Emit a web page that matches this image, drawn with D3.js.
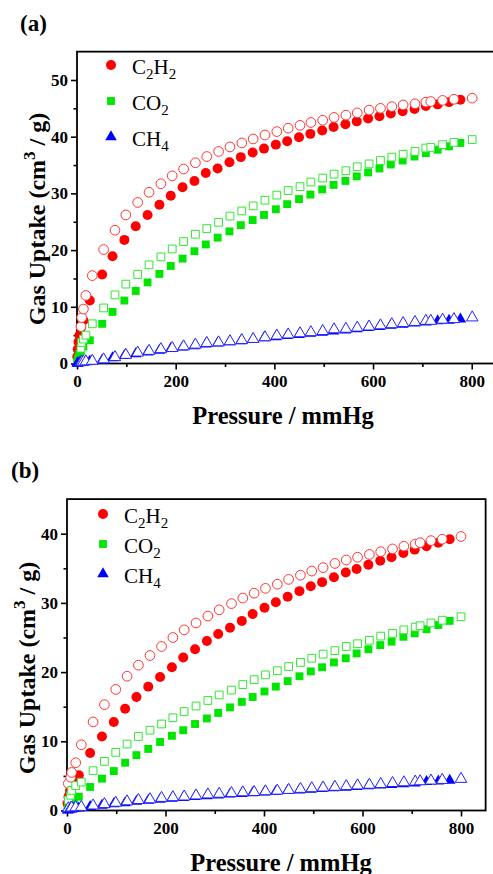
<!DOCTYPE html>
<html>
<head>
<meta charset="utf-8">
<script src="https://cdn.jsdelivr.net/npm/d3@7"></script>
<style>
body{margin:0;background:#fff;}
svg{display:block;}
text{font-family:"Liberation Serif","Times New Roman",serif;fill:#000;}
</style>
</head>
<body>
<svg id="fig" width="493" height="874"></svg>
<script>
// ---- data ----
var gases = ["C2H2", "CO2", "CH4"];
var xTicks = [0, 200, 400, 600, 800];
var xMinor = [100, 300, 500, 700];
var yTicksA = [0, 10, 20, 30, 40, 50];
var yTicksB = [0, 10, 20, 30, 40];

// panel (a) adsorption (filled)
var pressureAdsA = [0.5, 1.5, 3, 5, 8, 13, 26, 51, 72, 96, 119, 143, 167, 190, 214, 238, 261, 285, 309, 332, 356, 379, 403, 426, 450, 473, 497, 520, 544, 567, 590, 613, 636, 660, 684, 707, 731, 754, 777];
var c2h2AdsA = [1.2, 2.5, 3.8, 5.0, 6.3, 7.6, 11.1, 15.7, 18.9, 21.8, 24.2, 26.2, 28.0, 29.6, 31.1, 32.2, 33.6, 34.4, 35.5, 36.4, 37.2, 37.9, 38.6, 39.2, 39.9, 40.5, 41.1, 41.7, 42.2, 42.7, 43.2, 43.6, 44.1, 44.5, 44.9, 45.4, 45.7, 46.1, 46.5];
var co2AdsA = [0.3, 0.7, 1.2, 1.7, 2.2, 3.0, 4.1, 7.0, 9.1, 11.1, 12.8, 14.3, 15.8, 17.2, 18.5, 19.8, 21.0, 22.2, 23.3, 24.4, 25.3, 26.2, 27.2, 28.1, 29.0, 29.8, 30.7, 31.5, 32.2, 33.0, 33.7, 34.4, 35.1, 35.8, 36.5, 37.1, 37.7, 38.3, 38.9];
var ch4AdsA = [0.02, 0.05, 0.1, 0.15, 0.2, 0.25, 0.4, 0.6, 1.0, 1.4, 1.7, 2.0, 2.3, 2.6, 2.9, 3.1, 3.4, 3.6, 3.8, 4.0, 4.2, 4.5, 4.7, 4.9, 5.1, 5.3, 5.5, 5.7, 5.9, 6.1, 6.3, 6.5, 6.7, 6.9, 7.1, 7.3, 7.5, 7.6, 7.8];
// panel (a) desorption (open)
var pressureDesA = [8, 9.5, 13, 18, 31, 54, 77, 99, 123, 146, 170, 193, 216, 240, 263, 287, 310, 334, 357, 381, 405, 428, 452, 474, 498, 521, 545, 568, 592, 615, 638, 661, 685, 707, 717, 741, 764, 801];
var c2h2DesA = [6.5, 8.1, 9.6, 12.0, 15.5, 20.1, 23.5, 26.2, 28.4, 30.2, 31.7, 33.1, 34.3, 35.4, 36.5, 37.4, 38.2, 38.9, 39.6, 40.3, 40.9, 41.5, 42.0, 42.5, 42.9, 43.4, 43.8, 44.2, 44.7, 45.0, 45.3, 45.6, 45.8, 46.1, 46.2, 46.4, 46.6, 46.8];
var co2DesA = [2.7, 3.7, 4.3, 5.0, 7.0, 9.8, 12.1, 14.0, 15.7, 17.4, 18.8, 20.2, 21.5, 22.8, 23.8, 24.9, 26.0, 26.9, 27.8, 28.8, 29.7, 30.5, 31.2, 32.0, 32.7, 33.4, 34.0, 34.7, 35.2, 35.8, 36.4, 36.9, 37.4, 38.0, 38.1, 38.6, 39.0, 39.5];
var ch4DesA = [0.2, 0.25, 0.3, 0.35, 0.45, 0.7, 1.1, 1.5, 1.9, 2.2, 2.5, 2.7, 3.0, 3.3, 3.6, 3.7, 3.9, 4.1, 4.3, 4.6, 4.9, 5.1, 5.3, 5.5, 5.7, 6.0, 6.1, 6.3, 6.5, 6.7, 6.9, 7.1, 7.3, 7.5, 7.5, 7.7, 7.8, 8.1];

// panel (b) adsorption (filled)
var pressureAdsB = [1, 3, 6, 10, 14, 24, 47, 71, 95, 118, 141, 165, 189, 213, 236, 260, 284, 307, 331, 355, 377, 401, 424, 448, 472, 495, 518, 542, 566, 588, 612, 636, 659, 683, 706, 730, 754, 777];
var c2h2AdsB = [1.0, 2.0, 2.8, 3.5, 4.0, 5.1, 8.3, 10.7, 12.8, 14.7, 16.4, 17.9, 19.3, 20.7, 22.1, 23.3, 24.5, 25.5, 26.4, 27.4, 28.4, 29.3, 30.1, 30.9, 31.7, 32.4, 33.0, 33.7, 34.4, 34.9, 35.5, 36.1, 36.6, 37.2, 37.7, 38.2, 38.7, 39.2];
var co2AdsB = [0.2, 0.4, 0.7, 0.9, 1.1, 2.0, 3.4, 4.6, 5.7, 6.9, 8.0, 8.9, 9.9, 10.8, 11.6, 12.5, 13.3, 14.1, 14.9, 15.7, 16.4, 17.2, 17.9, 18.7, 19.4, 20.1, 20.7, 21.4, 22.0, 22.7, 23.3, 23.9, 24.4, 25.1, 25.6, 26.2, 26.8, 27.4];
var ch4AdsB = [0.05, 0.1, 0.15, 0.2, 0.25, 0.35, 0.55, 0.75, 0.95, 1.1, 1.3, 1.45, 1.6, 1.75, 1.85, 2.0, 2.1, 2.2, 2.35, 2.45, 2.55, 2.65, 2.75, 2.85, 2.95, 3.05, 3.15, 3.25, 3.35, 3.45, 3.55, 3.65, 3.75, 3.85, 3.95, 4.15, 4.25, 4.35];
// panel (b) desorption (open)
var pressureDesB = [2.7, 7.5, 9.5, 17.7, 29, 53, 76, 99, 122, 145, 168.5, 192, 215, 238, 262, 286, 309, 334, 357, 380, 403, 427, 450, 474, 497, 520, 544, 567, 590, 614, 637, 661, 684, 707, 717, 739, 762, 800];
var c2h2DesB = [3.9, 4.8, 5.5, 6.9, 9.5, 12.8, 15.3, 17.5, 19.4, 21.0, 22.4, 23.7, 25.0, 26.1, 27.1, 28.1, 29.0, 29.9, 30.7, 31.4, 32.1, 32.7, 33.4, 34.0, 34.6, 35.1, 35.7, 36.2, 36.6, 37.0, 37.4, 37.8, 38.2, 38.5, 38.7, 39.0, 39.2, 39.6];
var co2DesB = [1.5, 2.2, 2.9, 3.6, 4.1, 5.75, 7.1, 8.4, 9.6, 10.7, 11.6, 12.5, 13.4, 14.3, 15.1, 15.9, 16.7, 17.4, 18.2, 18.9, 19.6, 20.2, 20.8, 21.4, 22.0, 22.6, 23.1, 23.7, 24.1, 24.6, 25.2, 25.6, 26.1, 26.5, 26.7, 27.1, 27.5, 28.0];
var ch4DesB = [0.3, 0.35, 0.4, 0.45, 0.5, 0.7, 0.9, 1.1, 1.3, 1.5, 1.6, 1.8, 1.9, 2.0, 2.15, 2.3, 2.4, 2.5, 2.6, 2.65, 2.75, 2.85, 2.95, 3.1, 3.2, 3.3, 3.4, 3.5, 3.6, 3.7, 3.8, 3.95, 4.05, 4.15, 4.2, 4.3, 4.4, 4.55];

// ---- styles ----
var colors = {C2H2: "#ff0000", CO2: "#00e600", CH4: "#0000ff"};
var openColors = {C2H2: "#ff3333", CO2: "#33e633", CH4: "#2222ff"};
var shapes = {C2H2: d3.symbolCircle, CO2: d3.symbolSquare, CH4: d3.symbolTriangle};
var sizes = {C2H2: 78, CO2: 62, CH4: 58};
var openSizes = {C2H2: 74, CO2: 60, CH4: 58};

var svg = d3.select("#fig");
svg.append("rect").attr("width", 493).attr("height", 874).attr("fill", "#fff");

function zip(px, py){
  return px.map(function(p, i){ return {x: p, y: py[i]}; });
}

/***********************************************************************/

function styleTicks(a, withText){
  a.select(".domain").remove();
  a.selectAll("line").attr("stroke-width", 1.6);
  if (withText){
    a.selectAll("text").attr("font-size", 17).attr("font-weight", "bold")
      .style("font-family", "'Liberation Serif','Times New Roman',serif");
  }
}

function drawPanel(cfg){
  var g = svg.append("g");
  var x = d3.scaleLinear().domain([0, 850]).range([cfg.left, cfg.left + 850 * cfg.kx]);
  var y = d3.scaleLinear().domain([0, cfg.ymax]).range([cfg.bottom, cfg.bottom - cfg.ymax * cfg.ky]);
  var right = x(850), top = y(cfg.ymax);

  // minor ticks
  g.append("g").attr("transform", "translate(0," + cfg.bottom + ")")
    .call(d3.axisBottom(x).tickValues(xMinor).tickSize(3.5).tickFormat(""))
    .call(styleTicks, false);
  g.append("g").attr("transform", "translate(" + cfg.left + ",0)")
    .call(d3.axisLeft(y).tickValues(d3.range(5, cfg.ymax, 10)).tickSize(3.5).tickFormat(""))
    .call(styleTicks, false);

  // major ticks
  g.append("g").attr("transform", "translate(0," + cfg.bottom + ")")
    .call(d3.axisBottom(x).tickValues(xTicks).tickSize(6).tickPadding(5).tickFormat(d3.format("d")))
    .call(styleTicks, true);
  g.append("g").attr("transform", "translate(" + cfg.left + ",0)")
    .call(d3.axisLeft(y).tickValues(cfg.yTicks).tickSize(6).tickPadding(3).tickFormat(d3.format("d")))
    .call(styleTicks, true);

  // frame
  g.append("rect").attr("x", cfg.left).attr("y", top)
    .attr("width", right - cfg.left).attr("height", cfg.bottom - top)
    .attr("fill", "none").attr("stroke", "#000").attr("stroke-width", 1.8);

  // filled (adsorption) first, open (desorption) on top
  var series = cfg.series;
  gases.forEach(function(gas){
    g.append("g").selectAll("path").data(zip(series[gas].pa, series[gas].ya)).join("path")
      .attr("transform", function(d){ return "translate(" + x(d.x) + "," + y(d.y) + ")"; })
      .attr("d", d3.symbol().type(shapes[gas]).size(sizes[gas]))
      .attr("fill", colors[gas]);
  });
  gases.forEach(function(gas){
    g.append("g").selectAll("path").data(zip(series[gas].pd, series[gas].yd)).join("path")
      .attr("transform", function(d){ return "translate(" + x(d.x) + "," + y(d.y) + ")"; })
      .attr("d", d3.symbol().type(shapes[gas]).size(openSizes[gas]))
      .attr("fill", "#fff").attr("stroke", openColors[gas]).attr("stroke-width", 1);
  });

  // legend
  var leg = [["C", "2", "H", "2"], ["CO", "2"], ["CH", "4"]];
  gases.forEach(function(gas, i){
    var ly = cfg.legY + i * cfg.legStep;
    g.append("path").attr("transform", "translate(" + cfg.legX + "," + ly + ")")
      .attr("d", d3.symbol().type(shapes[gas]).size(sizes[gas])).attr("fill", colors[gas]);
    var t = g.append("text").attr("x", cfg.legX + 21).attr("y", ly + 8.5).attr("font-size", 21);
    leg[i].forEach(function(s, k){
      if (k % 2 === 1) t.append("tspan").attr("font-size", 15).attr("dy", 5).text(s);
      else t.append("tspan").attr("dy", k === 0 ? 0 : -5).text(s);
    });
  });

  // axis titles
  g.append("text").attr("x", cfg.xTitleX).attr("y", cfg.bottom + 60)
    .attr("text-anchor", "middle").attr("font-size", 24.5).attr("font-weight", "bold")
    .text("Pressure / mmHg");
  var yt = g.append("text")
    .attr("transform", "translate(" + cfg.yTitleX + "," + cfg.yTitleY + ") rotate(-90)")
    .attr("text-anchor", "middle").attr("font-size", 24).attr("font-weight", "bold");
  yt.append("tspan").text("Gas Uptake (cm");
  yt.append("tspan").attr("font-size", 17).attr("dy", -10).text("3");
  yt.append("tspan").attr("dy", 10).text(" / g)");

  // panel letter
  svg.append("text").attr("x", cfg.tagX).attr("y", cfg.tagY)
    .attr("font-size", 23).attr("font-weight", "bold").text(cfg.tag);
}

drawPanel({
  left: 77, bottom: 363.5, kx: 0.4934, ky: 5.67, ymax: 55, yTicks: yTicksA,
  legX: 111, legY: 65, legStep: 36,
  xTitleX: 283, yTitleX: 45, yTitleY: 219,
  tag: "(a)", tagX: 20, tagY: 31,
  series: {
    C2H2: {pa: pressureAdsA, ya: c2h2AdsA, pd: pressureDesA, yd: c2h2DesA},
    CO2: {pa: pressureAdsA, ya: co2AdsA, pd: pressureDesA, yd: co2DesA},
    CH4: {pa: pressureAdsA, ya: ch4AdsA, pd: pressureDesA, yd: ch4DesA}
  }
});

drawPanel({
  left: 67, bottom: 810.5, kx: 0.4925, ky: 6.92, ymax: 45, yTicks: yTicksB,
  legX: 103, legY: 514, legStep: 30,
  xTitleX: 281, yTitleX: 35, yTitleY: 668,
  tag: "(b)", tagX: 11, tagY: 478,
  series: {
    C2H2: {pa: pressureAdsB, ya: c2h2AdsB, pd: pressureDesB, yd: c2h2DesB},
    CO2: {pa: pressureAdsB, ya: co2AdsB, pd: pressureDesB, yd: co2DesB},
    CH4: {pa: pressureAdsB, ya: ch4AdsB, pd: pressureDesB, yd: ch4DesB}
  }
});
</script>
</body>
</html>
